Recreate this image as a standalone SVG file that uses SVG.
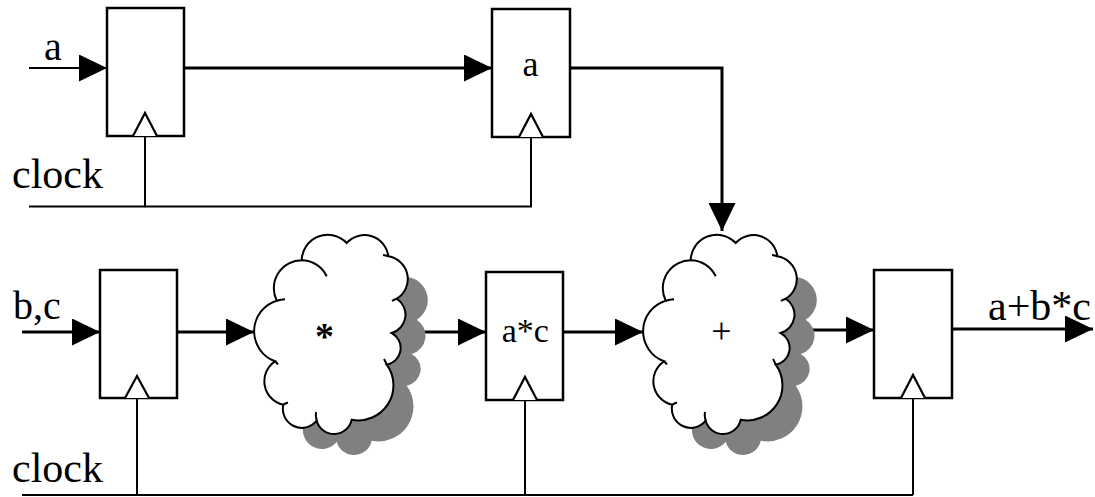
<svg xmlns="http://www.w3.org/2000/svg" xmlns:xlink="http://www.w3.org/1999/xlink" width="1095" height="497" viewBox="0 0 1095 497">
<style>
.reg{fill:#fff;stroke:#000;stroke-width:2.5}
.clk{fill:#fff;stroke:#000;stroke-width:2.2;stroke-linejoin:miter}
.wire{fill:none;stroke:#000;stroke-width:3}
.thin{fill:none;stroke:#000;stroke-width:2}
.cloud{fill:#fff;stroke:#000;stroke-width:2}
.tail{fill:none;stroke:#000;stroke-width:2}
.shadow{fill:#808080;stroke:none}
text{font-family:"Liberation Serif","Times New Roman",serif;fill:#000}
</style>
<defs>
<marker id="ah" markerUnits="userSpaceOnUse" markerWidth="28" markerHeight="27" refX="28" refY="13.5" orient="auto">
<path d="M0,0 L28,13.5 L0,27 Z" fill="#000"/>
</marker>
<path id="cloudShape" d="M275,361.3 A32,32 0 0 1 276.7,300.7 A28,28 0 0 1 301.7,260.3 A26,26 0 0 1 346.7,243 A24,24 0 0 1 388.3,256.3 A23,23 0 0 1 396.7,298.7 A19,19 0 0 1 391.7,333 A17,17 0 0 1 386.7,364.7 A35,35 0 0 1 351.7,419.7 A18,18 0 0 1 316.7,420.7 A19,19 0 0 1 283.3,404.7 A24,24 0 0 1 275,361.3 Z"/>
<path id="cloudTails" d="M276.7,300.7 A32,32 0 0 1 285,299.3 M301.7,260.3 A28,28 0 0 1 326.7,276.3 M388.3,256.3 A24,24 0 0 0 383,255 M396.7,298.7 A19,19 0 0 0 392,301 M386.7,364.7 A35,35 0 0 0 384,359 M316.7,420.7 A18,18 0 0 1 316,412 M283.3,404.7 A19,19 0 0 1 288,402.5 M275,361.3 A24,24 0 0 1 278,364.5"/>
</defs>

<g id="connectors">
<line class="thin" x1="29" y1="68" x2="107" y2="68" marker-end="url(#ah)"/>
<line class="wire" x1="184" y1="68" x2="492" y2="68" marker-end="url(#ah)"/>
<polyline class="wire" points="570,68 722,68 722,231" marker-end="url(#ah)"/>
<polyline class="thin" points="145,136 145,206.5 29,206.5"/>
<polyline class="thin" points="531,137 531,206.5 145,206.5"/>
<line class="wire" x1="22" y1="332" x2="100" y2="332" marker-end="url(#ah)"/>
<line class="wire" x1="177" y1="332" x2="254" y2="332" marker-end="url(#ah)"/>
<line class="wire" x1="392" y1="332" x2="486" y2="332" marker-end="url(#ah)"/>
<line class="wire" x1="563" y1="332" x2="643" y2="332" marker-end="url(#ah)"/>
<line class="wire" x1="780" y1="330" x2="874" y2="330" marker-end="url(#ah)"/>
<line class="wire" x1="952" y1="329" x2="1093" y2="329" marker-end="url(#ah)"/>
<polyline class="thin" points="22,495 913,495"/>
<line class="thin" x1="137" y1="398" x2="137" y2="495"/>
<line class="thin" x1="525" y1="400" x2="525" y2="495"/>
<line class="thin" x1="913" y1="398" x2="913" y2="495"/>
</g>

<g id="reg-a1">
<rect class="reg" x="107" y="8" width="77" height="128"/>
<polyline class="clk" points="133,136 145,113 157,136"/>
</g>
<g id="reg-a2">
<rect class="reg" x="492" y="9" width="78" height="128"/>
<polyline class="clk" points="519,137 531,114 543,137"/>
<text x="530.5" y="76" font-size="36" text-anchor="middle">a</text>
</g>
<g id="reg-bc">
<rect class="reg" x="100" y="270" width="77" height="128"/>
<polyline class="clk" points="125,398 137,376 149,398"/>
</g>
<g id="cloud-mul">
<use xlink:href="#cloudShape" class="shadow" transform="translate(20,21)"/>
<use xlink:href="#cloudShape" class="cloud"/>
<use xlink:href="#cloudTails" class="tail"/>
<text x="324.5" y="349" font-size="38" font-weight="bold" text-anchor="middle">*</text>
</g>
<g id="reg-ac">
<rect class="reg" x="486" y="272" width="77" height="128"/>
<polyline class="clk" points="513,400 525,377 537,400"/>
<text x="525.3" y="342" font-size="34" text-anchor="middle">a*c</text>
</g>
<g id="cloud-add">
<use xlink:href="#cloudShape" class="shadow" transform="translate(409,21)"/>
<use xlink:href="#cloudShape" class="cloud" transform="translate(389,0)"/>
<use xlink:href="#cloudTails" class="tail" transform="translate(389,0)"/>
<text x="721.5" y="343" font-size="36" text-anchor="middle">+</text>
</g>
<g id="reg-out">
<rect class="reg" x="874" y="270" width="78" height="128"/>
<polyline class="clk" points="901,398 913,375 925,398"/>
</g>

<g id="labels">
<text x="44" y="60" font-size="40">a</text>
<text x="12" y="188" font-size="42">clock</text>
<text x="13" y="319" font-size="40">b,c</text>
<text x="12" y="482" font-size="42">clock</text>
<text x="988" y="320" font-size="42">a+b*c</text>
</g>
</svg>
